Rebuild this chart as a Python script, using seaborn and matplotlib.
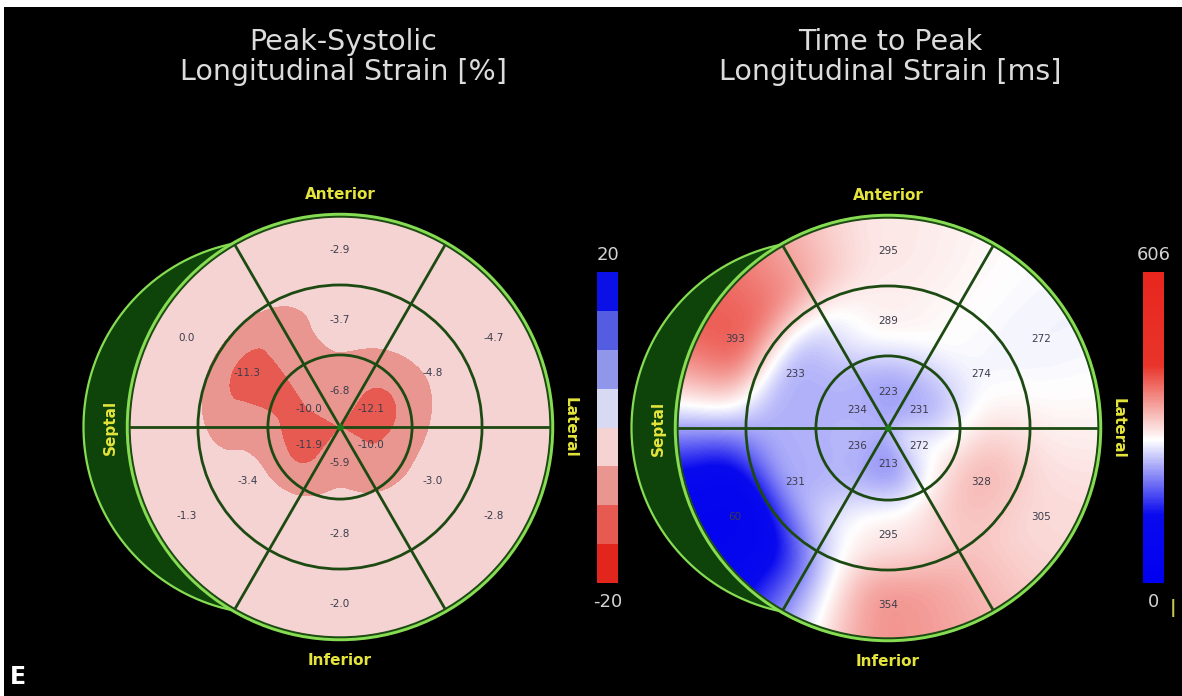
import numpy as np
import matplotlib
matplotlib.use("Agg")
import matplotlib.pyplot as plt
import seaborn as sns
from matplotlib.patches import Circle, Polygon, Rectangle
from matplotlib.colors import LinearSegmentedColormap

# segment order: anterior, anterolateral, inferolateral, inferior, inferoseptal, anteroseptal
seg_angles = [90, 30, -30, -90, -150, 150]

strain_basal = [-2.9, -4.7, -2.8, -2.0, -1.3, 0.0]
strain_mid = [-3.7, -4.8, -3.0, -2.8, -3.4, -11.3]
strain_apical = [-6.8, -12.1, -10.0, -5.9, -11.9, -10.0]

ttp_basal = [295, 272, 305, 354, 60, 393]
ttp_mid = [289, 274, 328, 295, 231, 233]
ttp_apical = [223, 231, 272, 213, 236, 234]

strain_levels = [-20, -15, -10, -5, 0, 5, 10, 15, 20]
strain_colors = ["#e3261d", "#e65a52", "#e99590", "#f4d3d2",
                 "#d8d9f3", "#9096ea", "#545ce2", "#0a10e6"]
ttp_min, ttp_max = 0, 606

titles = ["Peak-Systolic\nLongitudinal Strain [%]",
          "Time to Peak\nLongitudinal Strain [ms]"]

sns.set_theme(style="dark", rc={"figure.facecolor": "white"})
plt.rcParams["font.family"] = ["DejaVu Sans"]

W, H = 1182, 696
R = 212
fig = plt.figure(figsize=(W / 100, H / 100), dpi=100)
fig.patches.append(Rectangle((4 / W, 0), 1, (H - 7) / H, transform=fig.transFigure,
                             facecolor="black", edgecolor="none", zorder=-10))

ring_edges = [0.34, 0.67]
label_r = [0.17, 0.505, 0.835]
dark_green = "#1d4a12"
light_green = "#86dc52"
yellow = "#e4e43c"


def smooth_field(apical, mid, basal, r, t, sigma=0.06):
    # blend segment values smoothly around the ring and across the rings
    order = np.argsort(seg_angles)
    ang0 = np.array(seg_angles)[order][0]
    f = np.mod(t - ang0, 360) / 60.0
    i0 = np.floor(f).astype(int) % 6
    i1 = (i0 + 1) % 6
    w = f - np.floor(f)
    w = w * w * (3 - 2 * w)
    layers = []
    for vals in (apical, mid, basal):
        v = np.array(vals, dtype=float)[order]
        layers.append(v[i0] * (1 - w) + v[i1] * w)
    out = layers[-1].copy()
    out[r < label_r[0]] = layers[0][r < label_r[0]]
    for i in range(2):
        r0, r1 = label_r[i], label_r[i + 1]
        s = np.clip((r - r0) / (r1 - r0), 0, 1)
        s = s * s * (3 - 2 * s)
        seg = layers[i] * (1 - s) + layers[i + 1] * s
        m = (r >= r0) & (r < r1)
        out[m] = seg[m]
    if sigma <= 0:
        return out
    # light gaussian smoothing
    step = 2.0 / (r.shape[0] - 1)
    k = np.arange(-int(3 * sigma / step), int(3 * sigma / step) + 1) * step
    k = np.exp(-0.5 * (k / sigma) ** 2)
    k /= k.sum()
    pad = len(k) // 2
    o = np.pad(out, pad, mode="edge")
    o = np.apply_along_axis(lambda a: np.convolve(a, k, mode="valid"), 0, o)
    o = np.apply_along_axis(lambda a: np.convolve(a, k, mode="valid"), 1, o)
    return o


def bullseye_axes(cx, cy, xr=(-1.35, 1.2), yr=(-1.22, 1.25)):
    left = (cx + xr[0] * R) / W
    bottom = (H - cy + yr[0] * R) / H
    ax = fig.add_axes([left, bottom, (xr[1] - xr[0]) * R / W, (yr[1] - yr[0]) * R / H])
    ax.set_xlim(xr)
    ax.set_ylim(yr)
    ax.set_aspect("auto")
    ax.axis("off")
    return ax


def decorate(ax, apical, mid, basal, fmt):
    # septal crescent
    xc = -0.327
    rcres = 0.883
    th = np.radians(np.linspace(120, 240, 80))
    ph = np.radians(np.linspace(258.7, 101.3, 80))
    pts = np.vstack([np.column_stack([np.cos(th), np.sin(th)]),
                     np.column_stack([xc + rcres * np.cos(ph), rcres * np.sin(ph)])])
    ax.add_patch(Polygon(pts, closed=True, facecolor="#0e430a", edgecolor=light_green,
                         lw=1.6, zorder=1))
    for rr in ring_edges:
        ax.add_patch(Circle((0, 0), rr, fill=False, edgecolor=dark_green, lw=2, zorder=4))
    for a in (0, 60, 120):
        c, s = np.cos(np.radians(a)), np.sin(np.radians(a))
        ax.plot([-c, c], [-s, s], color=dark_green, lw=2, zorder=4)
    ax.add_patch(Circle((0, 0), 1.0, fill=False, edgecolor=light_green, lw=3.2, zorder=5))
    ax.add_patch(Circle((0, 0), 0.992, fill=False, edgecolor=dark_green, lw=1.4, zorder=6))
    ax.plot([0], [0], "o", color="#1f7a1a", ms=4, zorder=7)
    for rl, vals in zip(label_r, (apical, mid, basal)):
        for a, v in zip(seg_angles, vals):
            ax.text(rl * np.cos(np.radians(a)), rl * np.sin(np.radians(a)), fmt(v),
                    ha="center", va="center", fontsize=7.5, color="#3c3c4c", zorder=8)
    ax.text(0, 1.095, "Anterior", ha="center", va="center", fontsize=11,
            fontweight="bold", color=yellow)
    ax.text(0, -1.1, "Inferior", ha="center", va="center", fontsize=11,
            fontweight="bold", color=yellow)
    ax.text(-1.085, 0, "Septal", ha="center", va="center", rotation=90, fontsize=11,
            fontweight="bold", color=yellow, zorder=8)
    ax.text(1.085, 0, "Lateral", ha="center", va="center", rotation=270, fontsize=11,
            fontweight="bold", color=yellow)


g = np.linspace(-1, 1, 500)
X, Y = np.meshgrid(g, g)
Rg = np.hypot(X, Y)
Tg = np.degrees(np.arctan2(Y, X))

# left: peak systolic strain
ax1 = bullseye_axes(340, 427)
Z1 = smooth_field(strain_apical, strain_mid, strain_basal, Rg, Tg, sigma=0.0)
cs = ax1.contourf(X, Y, Z1, levels=strain_levels, colors=strain_colors, zorder=2)
cs.set_clip_path(Circle((0, 0), 1.0, transform=ax1.transData))
decorate(ax1, strain_apical, strain_mid, strain_basal, lambda v: f"{v:.1f}")

# right: time to peak
ax2 = bullseye_axes(888, 428)
Z2 = smooth_field(ttp_apical, ttp_mid, ttp_basal, Rg, Tg, sigma=0.05)
ttp_cmap = LinearSegmentedColormap.from_list(
    "ttp", [(0.0, "#0000f0"), (0.22, "#0a0aee"), (0.46, "#ffffff"),
            (0.70, "#e8342a"), (1.0, "#e8261e")])
im = ax2.imshow(Z2, extent=(-1, 1, -1, 1), origin="lower", cmap=ttp_cmap,
                vmin=ttp_min, vmax=ttp_max, interpolation="bilinear", zorder=2)
im.set_clip_path(Circle((0, 0), 1.0, transform=ax2.transData))
decorate(ax2, ttp_apical, ttp_mid, ttp_basal, lambda v: f"{v:d}")

# colorbars
for x0, mappable, lo, hi in ((597, cs, "-20", "20"), (1143, im, "0", "606")):
    cax = fig.add_axes([x0 / W, (H - 583) / H, 21 / W, 311 / H])
    cb = fig.colorbar(mappable, cax=cax)
    cb.outline.set_visible(False)
    cax.set_yticks([])
    xc_ = (x0 + 10.5) / W
    fig.text(xc_, 1 - 255 / H, hi, ha="center", va="center", fontsize=13, color="#d2d2d2")
    fig.text(xc_, 1 - 602 / H, lo, ha="center", va="center", fontsize=13, color="#d2d2d2")

fig.text(1173 / W, 1 - 608 / H, "|", ha="center", va="center", fontsize=13,
         color="#c8c850", fontweight="bold")

for cx, t in zip((343, 890), titles):
    fig.text(cx / W, 1 - 57 / H, t, ha="center", va="center", fontsize=20.5,
             color="#dcdcdc", linespacing=1.08)

fig.text(10 / W, 1 - 677 / H, "E", ha="left", va="center", fontsize=17,
         fontweight="bold", color="white")

fig.savefig("out.png", dpi=100, facecolor=fig.get_facecolor())
